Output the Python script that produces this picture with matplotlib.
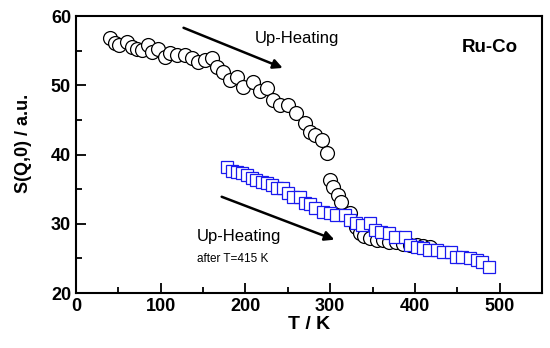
import matplotlib
matplotlib.use("Agg")
import matplotlib.pyplot as plt
from matplotlib.ticker import MultipleLocator

plt.rcParams['font.family'] = ['Liberation Sans', 'DejaVu Sans']

# Circles: first heating run
circ_T = [40, 46, 51, 60, 66, 72, 78, 85, 90, 97, 105, 111, 119, 129, 137, 144, 152,
          160, 166, 173, 182, 190, 197, 209, 217, 225, 232, 241, 250, 260, 270, 276,
          282, 290, 296, 300, 303, 309, 313, 323, 331, 335, 340, 347, 355, 362, 370,
          378, 386, 394, 402, 410, 418]
circ_S = [56.8, 56.1, 55.8, 56.2, 55.5, 55.2, 55.1, 55.8, 54.8, 55.2, 54.1, 54.7, 54.4,
          54.4, 53.9, 53.4, 53.7, 53.9, 52.6, 51.9, 50.8, 51.2, 49.8, 50.5, 49.1, 49.6,
          47.9, 47.2, 47.2, 46.0, 44.6, 43.3, 42.8, 42.1, 40.2, 36.3, 35.3, 34.2, 33.2,
          31.6, 29.6, 28.7, 28.3, 28.0, 27.7, 27.6, 27.4, 27.3, 27.1, 27.0, 27.0, 26.8,
          26.6]

# Squares: second heating run (after T=415 K)
sq_T = [178, 184, 190, 196, 202, 208, 213, 219, 225, 231, 237, 244, 250, 256, 264, 270,
        276, 282, 291, 300, 307, 317, 323, 331, 337, 347, 353, 360, 370, 376, 388, 394,
        402, 409, 417, 426, 433, 443, 449, 456, 465, 473, 479, 488]
sq_S = [38.2, 37.6, 37.5, 37.3, 37.1, 36.6, 36.3, 36.0, 35.9, 35.6, 35.2, 35.2, 34.5,
        33.9, 33.9, 33.0, 32.9, 32.3, 31.7, 31.6, 31.3, 31.3, 30.6, 30.1, 29.8, 30.1,
        29.1, 28.8, 28.7, 28.1, 28.1, 27.0, 26.7, 26.5, 26.2, 26.2, 25.9, 25.9, 25.2,
        25.2, 25.1, 24.8, 24.5, 23.8]

fig = plt.figure(figsize=(5.5, 3.48), dpi=100)
ax = fig.add_axes([0.138, 0.158, 0.8475, 0.796])

ax.plot(circ_T, circ_S, 'o', ms=10, mfc='white', mec='black', mew=0.9, zorder=2)
ax.plot(sq_T, sq_S, 's', ms=8.5, mfc='white', mec='#1a1aee', mew=0.9, zorder=3)

ax.set_xlim(0, 550)
ax.set_ylim(20, 60)
ax.xaxis.set_major_locator(MultipleLocator(100))
ax.xaxis.set_minor_locator(MultipleLocator(50))
ax.yaxis.set_major_locator(MultipleLocator(10))
ax.yaxis.set_minor_locator(MultipleLocator(5))
ax.tick_params(which='both', direction='in', top=False, right=False, width=1.3,
               labelsize=13)
ax.tick_params(which='major', length=7)
ax.tick_params(which='minor', length=4)
for lab in ax.get_xticklabels() + ax.get_yticklabels():
    lab.set_fontweight('bold')
for sp in ax.spines.values():
    sp.set_linewidth(1.5)

ax.set_xlabel('T / K', fontsize=14, fontweight='bold', labelpad=1)
ax.set_ylabel('S(Q,0) / a.u.', fontsize=13, fontweight='bold')
ax.yaxis.set_label_coords(-0.095, 0.54)

ax.annotate('', xy=(244, 52.5), xytext=(127, 58.3),
            arrowprops=dict(arrowstyle='-|>', color='black', lw=1.8,
                            mutation_scale=14, shrinkA=0, shrinkB=0))
ax.text(211, 56.8, 'Up-Heating', fontsize=12, va='center', ha='left')

ax.annotate('', xy=(305, 27.7), xytext=(172, 33.9),
            arrowprops=dict(arrowstyle='-|>', color='black', lw=1.8,
                            mutation_scale=14, shrinkA=0, shrinkB=0))
ax.text(143, 28.1, 'Up-Heating', fontsize=12, va='center', ha='left')
ax.text(143, 24.9, 'after T=415 K', fontsize=8.5, va='center', ha='left')

ax.text(455, 55.4, 'Ru-Co', fontsize=13.5, fontweight='bold', va='center', ha='left')

fig.savefig('out.png', dpi=100)
